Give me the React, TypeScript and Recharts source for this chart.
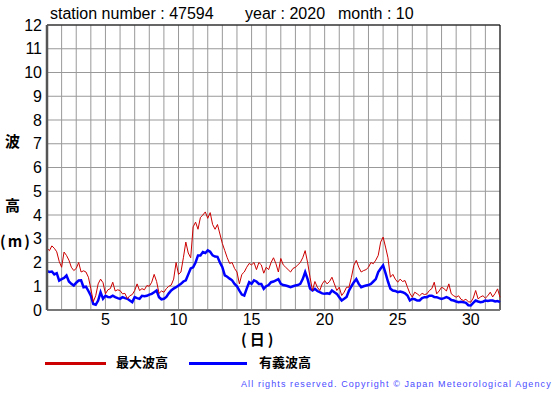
import {
  CartesianGrid,
  Line,
  LineChart,
  ReferenceLine,
  XAxis,
  YAxis,
} from 'recharts'

// wave height (m), one value every 4 hours, from day 1 00h to day 32 00h
const maxWave = [
  2.6, 2.5, 2.7, 2.6, 2.45, 2.05,
  1.8, 2.44, 2.3, 2.1, 1.8, 1.66,
  1.75, 2.0, 1.6, 1.65, 1.6, 1.38,
  0.9, 0.35, 0.6, 1.1, 1.3, 1.15,
  0.68, 0.85, 0.9, 1.17, 0.8, 0.85,
  0.82, 0.68, 0.7, 0.47, 0.6, 0.65,
  0.82, 1.1, 0.82, 0.9, 0.85, 1.03,
  1.0, 1.17, 1.5, 1.2, 0.7, 0.8,
  0.75, 0.9, 1.0, 1.05, 1.3, 2.0,
  1.5, 1.6, 2.2, 2.86, 2.4, 2.2,
  3.5, 3.7, 3.4, 3.9, 4.0, 4.13,
  3.86, 4.1, 3.6, 3.4, 3.6, 3.2,
  2.8, 2.5, 2.2, 1.96, 2.0, 1.75,
  1.6, 1.1, 1.5, 1.6, 1.8, 1.96,
  1.9, 2.0, 1.7, 2.0, 1.9, 1.55,
  1.8, 1.7, 2.0, 2.2, 1.95, 1.6,
  2.17, 1.9, 1.8, 1.7, 1.6, 1.75,
  1.8, 1.9, 2.0, 2.2, 2.5, 2.0,
  1.38, 0.82, 1.2, 0.96, 0.82, 1.1,
  1.24, 1.1, 1.2, 1.38, 1.1, 0.82,
  0.96, 0.61, 0.75, 0.96, 0.96, 1.38,
  1.88, 2.09, 1.8, 1.6, 1.66, 1.7,
  1.8, 2.0, 1.95, 2.1, 2.3, 2.86,
  3.07, 2.65, 2.2, 1.38, 1.5, 1.3,
  1.17, 1.3, 1.2, 1.24, 0.96, 0.7,
  0.54, 0.75, 0.68, 0.6, 0.7, 0.65,
  0.68, 0.82, 0.9, 1.17, 0.68, 0.8,
  0.96, 0.9, 0.8, 1.1, 0.68, 0.6,
  0.54, 0.6, 0.45, 0.4, 0.45, 0.35,
  0.33, 0.5, 0.82, 0.47, 0.55, 0.6,
  0.5, 0.6, 0.75, 0.55, 0.7, 0.89,
  0.54,
]

const sigWave = [
  1.64, 1.6, 1.62, 1.5, 1.55, 1.24,
  1.3, 1.35, 1.45, 1.2, 1.1, 1.03,
  1.15, 1.24, 1.25, 0.96, 0.98, 0.8,
  0.6, 0.25, 0.22, 0.4, 0.75, 0.47,
  0.6, 0.55, 0.54, 0.6, 0.54, 0.5,
  0.47, 0.54, 0.5, 0.47, 0.4, 0.33,
  0.54, 0.5, 0.47, 0.6, 0.58, 0.6,
  0.65, 0.68, 0.75, 0.82, 0.54, 0.45,
  0.47, 0.55, 0.7, 0.82, 0.9, 0.96,
  1.03, 1.1, 1.2, 1.25, 1.5, 1.75,
  1.8, 2.0, 2.3, 2.3, 2.44, 2.4,
  2.51, 2.45, 2.3, 2.25, 2.24, 2.0,
  1.8, 1.46, 1.4, 1.32, 1.25, 1.1,
  1.0, 0.82, 0.65, 0.61, 0.9, 1.17,
  1.1, 1.25, 1.2, 1.1, 1.1, 0.89,
  1.0, 1.05, 1.17, 1.2, 1.25, 1.3,
  1.1, 1.05, 1.03, 1.0, 0.96, 1.0,
  1.03, 1.05, 1.1, 1.3, 1.6, 1.3,
  0.9, 0.82, 0.89, 0.8, 0.75, 0.7,
  0.68, 0.7, 0.68, 0.82, 0.75, 0.68,
  0.54, 0.4, 0.47, 0.55, 0.82, 1.0,
  1.17, 1.3, 1.1, 0.96, 1.0, 1.03,
  1.05, 1.1, 1.2, 1.3, 1.6, 1.75,
  1.88, 1.55, 1.2, 0.9, 0.82, 0.8,
  0.75, 0.78, 0.75, 0.7, 0.61, 0.4,
  0.47, 0.45, 0.4, 0.4, 0.5, 0.54,
  0.54, 0.6, 0.6, 0.55, 0.54, 0.5,
  0.47, 0.5, 0.54, 0.5, 0.42, 0.4,
  0.36, 0.33, 0.35, 0.33, 0.3, 0.2,
  0.19, 0.3, 0.4, 0.36, 0.33, 0.35,
  0.4, 0.38, 0.4, 0.4, 0.36, 0.38,
  0.33,
]

const POINTS_PER_DAY = 6
const dayTicks = Array.from({ length: 32 }, (_, i) => i + 1)
const heightTicks = [0, 1, 2, 3, 4, 5, 6, 7, 8, 9, 10, 11, 12]
const labelledDays = [5, 10, 15, 20, 25, 30]

const data = maxWave.map((v, i) => ({
  day: 1 + i / POINTS_PER_DAY,
  max: v,
  sig: sigWave[i],
}))

const latin = '"Liberation Sans", Arial, Helvetica, sans-serif'
const cjk = '"Noto Sans CJK JP", "Noto Sans CJK SC", sans-serif'

function Label({ x, y, children, style }: { x: number; y: number; children: React.ReactNode; style?: React.CSSProperties }) {
  return (
    <div style={{ position: 'absolute', left: x, top: y, whiteSpace: 'nowrap', lineHeight: 1, ...style }}>
      {children}
    </div>
  )
}

export default function App() {
  return (
    <div style={{ position: 'absolute', left: 0, top: 0, width: 555, height: 395, background: '#fff', fontFamily: latin }}>
      <LineChart width={555} height={395} data={data} margin={{ top: 25, right: 55, bottom: 55, left: 0 }}>
        <CartesianGrid stroke="#999" strokeWidth={1} />
        <XAxis
          dataKey="day"
          type="number"
          domain={[1, 32]}
          ticks={dayTicks}
          interval={0}
          height={30}
          tickSize={0}
          tickMargin={4}
          tickFormatter={(d: number) => (labelledDays.includes(d) ? String(d) : '')}
          tick={{ fill: '#000', fontSize: 16, fontFamily: latin }}
          axisLine={{ stroke: '#777', strokeWidth: 2 }}
        />
        <YAxis
          type="number"
          domain={[0, 12]}
          ticks={heightTicks}
          interval={0}
          width={47}
          tickSize={0}
          tickMargin={5}
          tick={{ fill: '#000', fontSize: 16, fontFamily: latin }}
          axisLine={{ stroke: '#555', strokeWidth: 2.5 }}
        />
        <ReferenceLine y={12} stroke="#000" strokeWidth={1} />
        <ReferenceLine x={32} stroke="#000" strokeWidth={1} />
        <Line dataKey="sig" type="linear" stroke="#0000ff" strokeWidth={2.5} dot={false} isAnimationActive={false} />
        <Line dataKey="max" type="linear" stroke="#cc0000" strokeWidth={1} dot={false} isAnimationActive={false} />
      </LineChart>

      <Label x={50} y={6} style={{ fontSize: 16 }}>station number : 47594</Label>
      <Label x={245} y={6} style={{ fontSize: 16 }}>year : 2020</Label>
      <Label x={338} y={6} style={{ fontSize: 16 }}>month : 10</Label>

      <Label x={5} y={133} style={{ fontSize: 15, fontWeight: 700, fontFamily: cjk }}>波</Label>
      <Label x={5} y={197} style={{ fontSize: 15, fontWeight: 700, fontFamily: cjk }}>高</Label>
      <Label x={0} y={233} style={{ fontSize: 15, fontWeight: 700, fontFamily: cjk, letterSpacing: 2 }}>(m)</Label>

      <Label x={241} y={331} style={{ fontSize: 15, fontWeight: 700, fontFamily: cjk, letterSpacing: 3 }}>(日)</Label>

      <div style={{ position: 'absolute', left: 45, top: 362, width: 61, height: 3, background: '#cc0000' }} />
      <Label x={116} y={355} style={{ fontSize: 13, fontWeight: 700, fontFamily: cjk }}>最大波高</Label>
      <div style={{ position: 'absolute', left: 189, top: 362, width: 58, height: 3, background: '#0000ff' }} />
      <Label x={259} y={355} style={{ fontSize: 13, fontWeight: 700, fontFamily: cjk }}>有義波高</Label>

      <Label x={241} y={380} style={{ fontSize: 9, letterSpacing: 1.1, color: '#4b4bff' }}>
        All rights reserved. Copyright © Japan Meteorological Agency
      </Label>
    </div>
  )
}
